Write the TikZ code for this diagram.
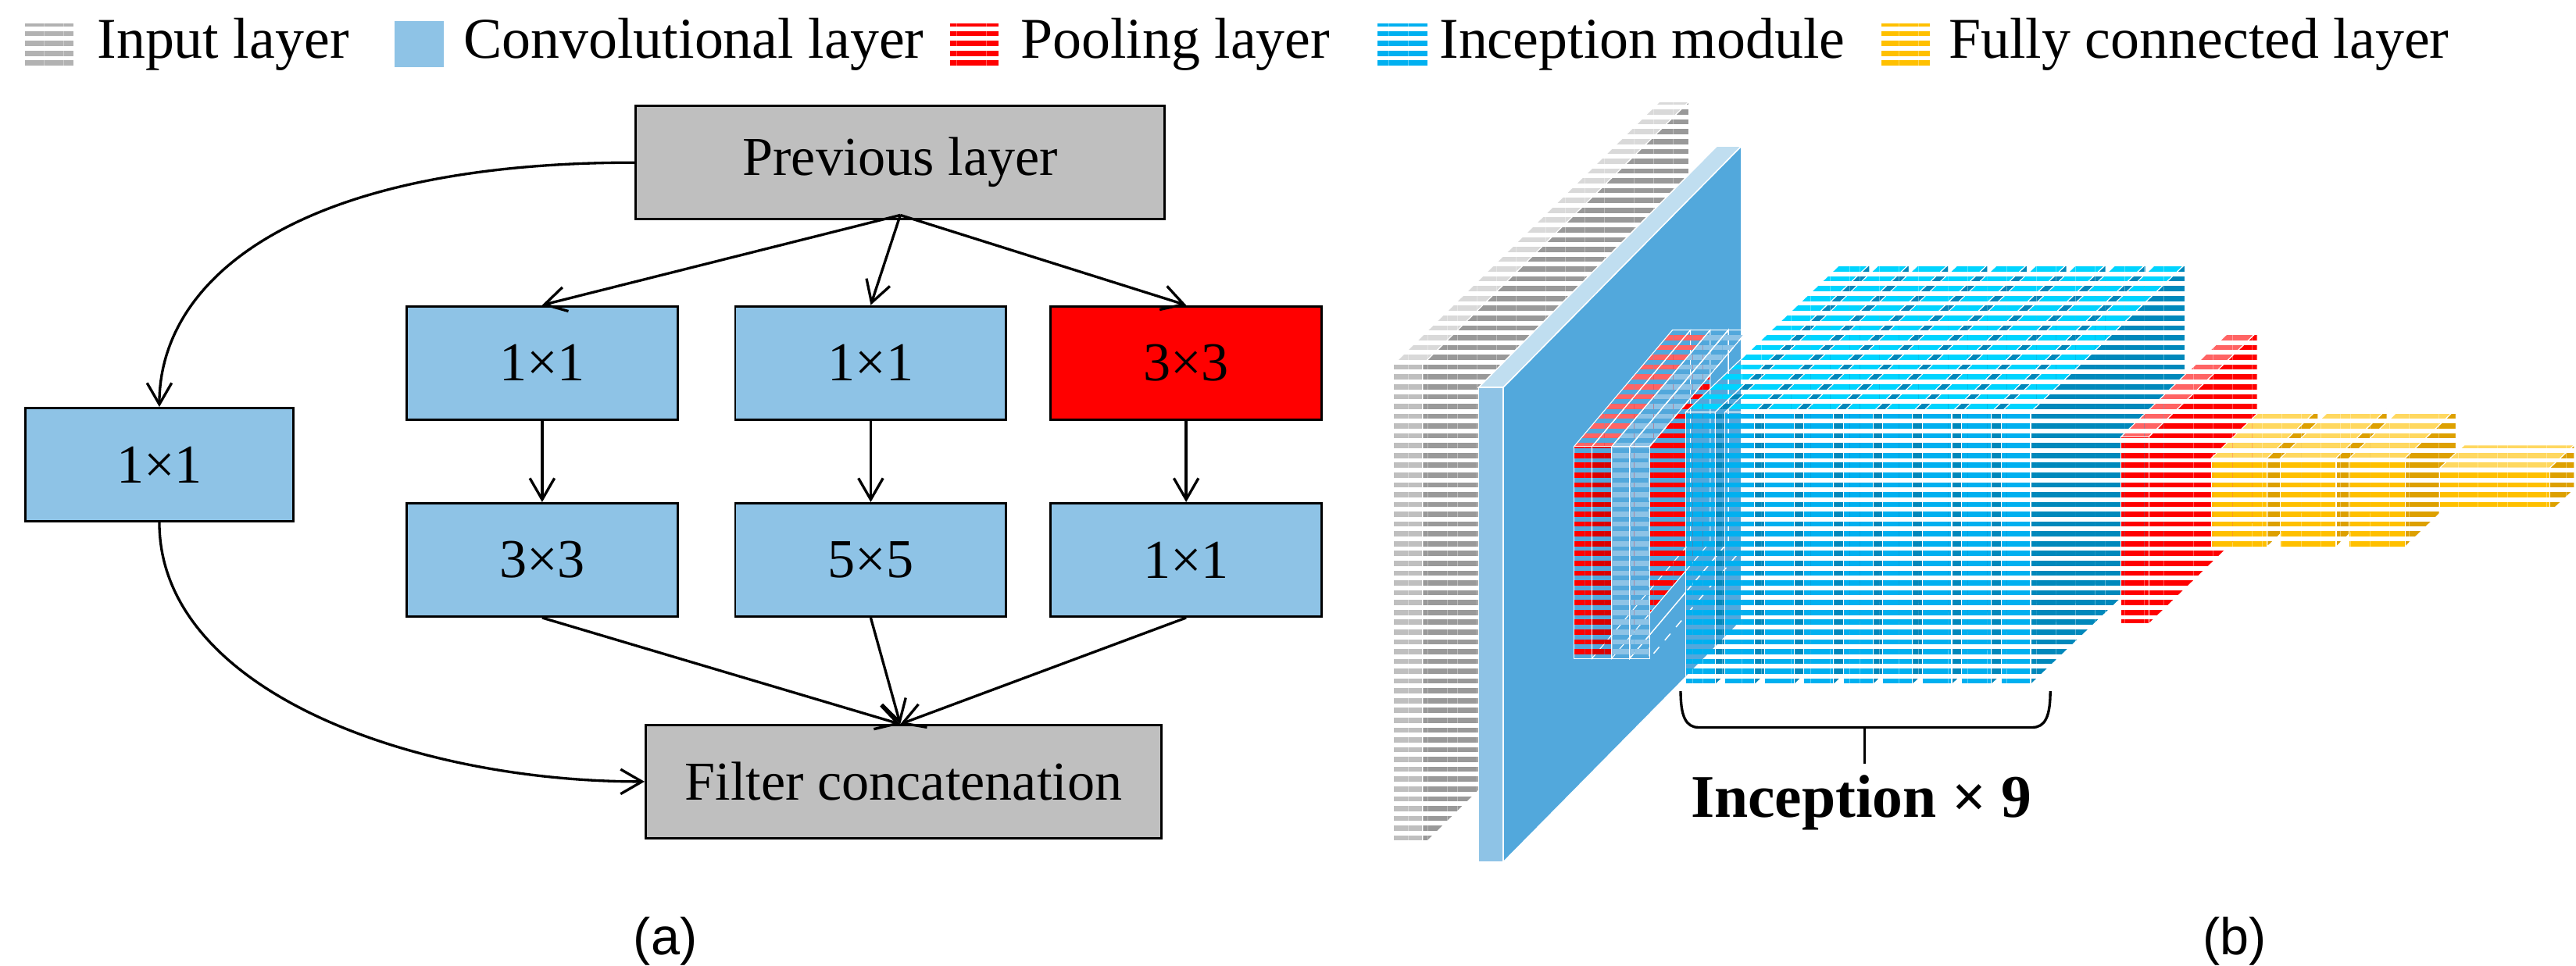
\documentclass[tikz,border=0pt]{standalone}
\usepackage{fontspec}
\setmainfont{Liberation Serif}
\newfontfamily\sansf{Liberation Sans}
\usetikzlibrary{arrows.meta,patterns.meta}
\definecolor{convF}{HTML}{8EC3E6}
\definecolor{convS}{HTML}{52A8DC}
\definecolor{convT}{HTML}{C0DEF0}
\definecolor{incF}{HTML}{00B0F0}
\definecolor{incS}{HTML}{0088BB}
\definecolor{incT}{HTML}{00D4FF}
\definecolor{fcF}{HTML}{FFC000}
\definecolor{fcS}{HTML}{DDA000}
\definecolor{fcT}{HTML}{FFD860}
\definecolor{poolT}{HTML}{FF6464}
\tikzset{
  box/.style={draw=black,line width=0.8pt,minimum height=1.38cm,align=center,font=\fontsize{19}{22}\selectfont},
  conv/.style={box,fill=convF},
  gbox/.style={box,fill=black!25},
  arr/.style={line width=0.9pt,-{Straight Barb[length=2.6mm,width=3mm]}},
  st/.style={pattern={Lines[angle=0,distance=3.4pt,line width=1.8pt]},pattern color=#1,draw=white,line width=0.3pt},
  legtxt/.style={anchor=west,font=\fontsize{20}{23}\selectfont}
}
% \slabx{x}{y}{w}{h}{dx}{dy}{front}{side}{top}
\newcommand\slabx[9]{%
  \path[#9] (#1,#2) -- (#1+#3,#2) -- (#1+#3+#5,#2+#6) -- (#1+#5,#2+#6) -- cycle;
  \path[#8] (#1+#3,#2) -- (#1+#3+#5,#2+#6) -- (#1+#3+#5,#2+#4+#6) -- (#1+#3,#2+#4) -- cycle;
  \path[#7] (#1,#2) rectangle (#1+#3,#2+#4);
}
\begin{document}
\begin{tikzpicture}[x=0.02cm,y=-0.02cm]
\useasboundingbox (0,0) rectangle (1568,588);
% legend
\path[st=black!30] (15,14) rectangle (45,41);
\node[legtxt] (l1) at (53,27) {Input layer};
\path[fill=convF] (240,13) rectangle (270,41);
\node[legtxt] (l2) at (276,27) {Convolutional layer};
\path[st=red] (578,14) rectangle (608,41);
\node[legtxt] (l3) at (615,27) {Pooling layer};
\path[st=incF] (838,14) rectangle (869,41);
\node[legtxt] (l4) at (870,27) {Inception module};
\path[st=fcF] (1145,14) rectangle (1175,41);
\node[legtxt] (l5) at (1180,27) {Fully connected layer};
% (a)
\node[gbox,minimum width=6.44cm] (prev) at (548,99) {Previous layer};
\node[conv,minimum width=3.26cm] (l) at (97,283) {1×1};
\node[conv,minimum width=3.3cm] (a1) at (330,221) {1×1};
\node[conv,minimum width=3.3cm] (b1) at (530,221) {1×1};
\node[box,fill=red,minimum width=3.3cm] (c1) at (722,221) {3×3};
\node[conv,minimum width=3.3cm] (a2) at (330,341) {3×3};
\node[conv,minimum width=3.3cm] (b2) at (530,341) {5×5};
\node[conv,minimum width=3.3cm] (c2) at (722,341) {1×1};
\node[gbox,minimum width=6.28cm] (fc) at (550,476) {Filter concatenation};
\coordinate (pb) at (548,131);
\coordinate (ft) at (548,441);
\draw[arr] (pb) -- (a1.north);
\draw[arr] (pb) -- (b1.north);
\draw[arr] (pb) -- (c1.north);
\draw[arr] (a1) -- (a2);
\draw[arr] (b1) -- (b2);
\draw[arr] (c1) -- (c2);
\draw[arr] (a2.south) -- (ft);
\draw[arr] (b2.south) -- (ft);
\draw[arr] (c2.south) -- (ft);
\draw[arr] (prev.west) .. controls (180,99) and (97,170) .. (l.north);
\draw[arr] (l.south) .. controls (97,420) and (250,476) .. (fc.west);
\node[font=\sansf\fontsize{18}{20}\selectfont] (ta) at (405,573) {(a)};
\node[font=\sansf\fontsize{18}{20}\selectfont] (tb) at (1360,573) {(b)};
% (b)
\slabx{848}{222}{18}{293}{162}{-160}{st=black!25}{st=black!40}{st=black!15}
\slabx{900}{236}{15}{289}{145}{-147}{fill=convF,draw=white}{fill=convS,draw=white}{fill=convT,draw=white}
\slabx{958}{272}{11}{129}{60}{-71}{st=red}{st=red}{st=poolT}
\slabx{969}{272}{12}{129}{60}{-71}{st=red!85!black}{st=red}{st=poolT}
\slabx{981}{272}{11}{129}{60}{-71}{st=convF}{draw=white}{st=convF}
\slabx{992}{272}{12}{129}{60}{-71}{st=convF}{draw=white,dashed}{st=convF}
\foreach \i in {0,...,8}{
  \slabx{1026+24*\i}{251}{18}{166}{94}{-90}{st=incF}{st=incS}{st=incT}
}
\slabx{1291}{266}{17}{114}{66}{-64}{st=red}{st=red}{st=poolT}
\foreach \i in {0,...,2}{
  \slabx{1346+42*\i}{279}{34}{54}{31}{-30}{st=fcF}{st=fcS}{st=fcT}
}
\slabx{1485}{285}{67}{27}{15}{-14}{st=fcF}{st=fcS}{st=fcT}
\coordinate (bl) at (1023,421);
\coordinate (br) at (1248,421);
\coordinate (bm) at (1135,443);
\coordinate (bs) at (1135,465);
\draw[line width=0.9pt] (bl) .. controls (1023,436) and (1026,443) .. (1034,443) -- (1237,443) .. controls (1245,443) and (1248,436) .. (br);
\draw[line width=0.9pt] (bm) -- (bs);
\node[font=\bfseries\fontsize{21}{24}\selectfont] (inc) at (1133,489) {Inception × 9};
\end{tikzpicture}
\end{document}
